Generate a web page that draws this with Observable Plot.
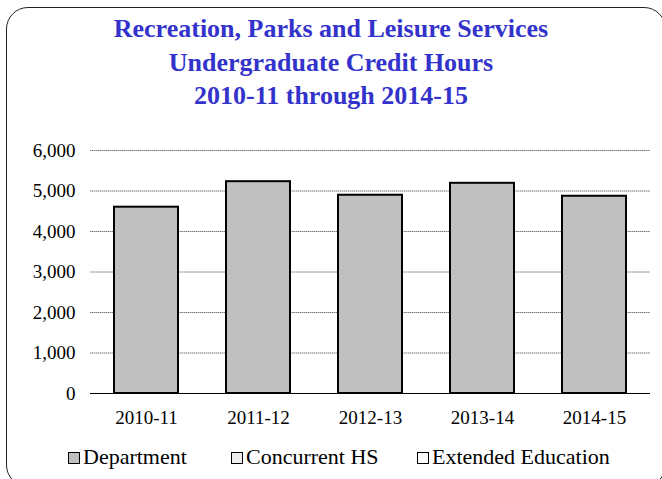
<!DOCTYPE html>
<html>
<head>
<meta charset="utf-8">
<script src="https://cdn.jsdelivr.net/npm/d3@7"></script>
<script src="https://cdn.jsdelivr.net/npm/@observablehq/plot@0.6"></script>
<style>
  html, body { margin: 0; padding: 0; background: #fff; }
  body { width: 662px; height: 479px; position: relative; overflow: hidden; font-family: "Liberation Serif", "Times New Roman", serif; }
  #frame { position: absolute; left: 6px; top: 7px; width: 660px; height: 480px; border: 1.5px solid #222; border-radius: 22px; box-sizing: border-box; }
  #title { position: absolute; left: 0; top: 12px; width: 662px; text-align: center; color: #3333cc; font-weight: bold; font-size: 26px; line-height: 33.5px; }
  #chart { position: absolute; left: 0; top: 130px; }
  .leg { position: absolute; top: 445px; font-size: 22px; line-height: 23px; color: #000; white-space: nowrap; }
  .sw { position: absolute; top: 6.5px; width: 10px; height: 10px; border: 1.5px solid #000; box-sizing: content-box; }
</style>
</head>
<body>
<div id="frame"></div>
<div id="title">Recreation, Parks and Leisure Services<br>Undergraduate Credit Hours<br>2010-11 through 2014-15</div>
<div id="chart"></div>
<div id="legend"></div>
<script>
const years = ["2010-11", "2011-12", "2012-13", "2013-14", "2014-15"];
const seriesNames = ["Department", "Concurrent HS", "Extended Education"];
const department = [4600, 5230, 4895, 5190, 4870];
const concurrentHS = [0, 0, 0, 0, 0];
const extendedEducation = [0, 0, 0, 0, 0];
const seriesColors = ["#c0c0c0", "#e0e0e0", "#ffffff"];
const yTicks = [0, 1000, 2000, 3000, 4000, 5000, 6000];

const seriesValues = [department, concurrentHS, extendedEducation];
const data = [];
years.forEach((yr, i) => {
  seriesNames.forEach((s, j) => data.push({year: yr, series: s, value: seriesValues[j][i]}));
});

const plot = Plot.plot({
  width: 662,
  height: 300,
  marginTop: 20,
  marginBottom: 37,
  marginLeft: 90,
  marginRight: 12,
  style: { fontFamily: '"Liberation Serif", "Times New Roman", serif', fontSize: "19px", color: "#000", background: "transparent" },
  x: { domain: years, paddingInner: 0.4286, paddingOuter: 0.2143, label: null },
  y: { domain: [0, 6000], label: null },
  color: { domain: seriesNames, range: seriesColors },
  marks: [
    Plot.gridY(yTicks.filter(t => t > 0), { stroke: "#7a7a7a", strokeOpacity: 1, strokeWidth: 1, strokeDasharray: "1.5,0.5" }),
    Plot.axisY(yTicks, { tickSize: 0, tickPadding: 15, tickFormat: d3.format(","), fontSize: "19px", label: null }),
    Plot.axisX({ tickSize: 0, tickPadding: 17, fontSize: "19px", label: null }),
    Plot.barY(data, Plot.stackY({ x: "year", y: "value", fill: "series", filter: d => d.value > 0, stroke: "#000", strokeWidth: 2 })),
    Plot.ruleY([0], { stroke: "#000", strokeWidth: 1 })
  ]
});
document.getElementById("chart").appendChild(plot);

// legend
const legendLefts = [68, 231, 417];
const legend = document.getElementById("legend");
seriesNames.forEach((s, j) => {
  const item = document.createElement("div");
  item.className = "leg";
  item.style.left = legendLefts[j] + "px";
  item.style.paddingLeft = "15px";
  const sw = document.createElement("div");
  sw.className = "sw";
  sw.style.left = "0px";
  if (j === 1) {
    sw.style.background = "radial-gradient(#8a8a8a 0.6px, #eeeeee 0.7px)";
    sw.style.backgroundSize = "2px 2px";
  } else {
    sw.style.background = seriesColors[j];
  }
  item.appendChild(sw);
  item.appendChild(document.createTextNode(s));
  legend.appendChild(item);
});
</script>
</body>
</html>
